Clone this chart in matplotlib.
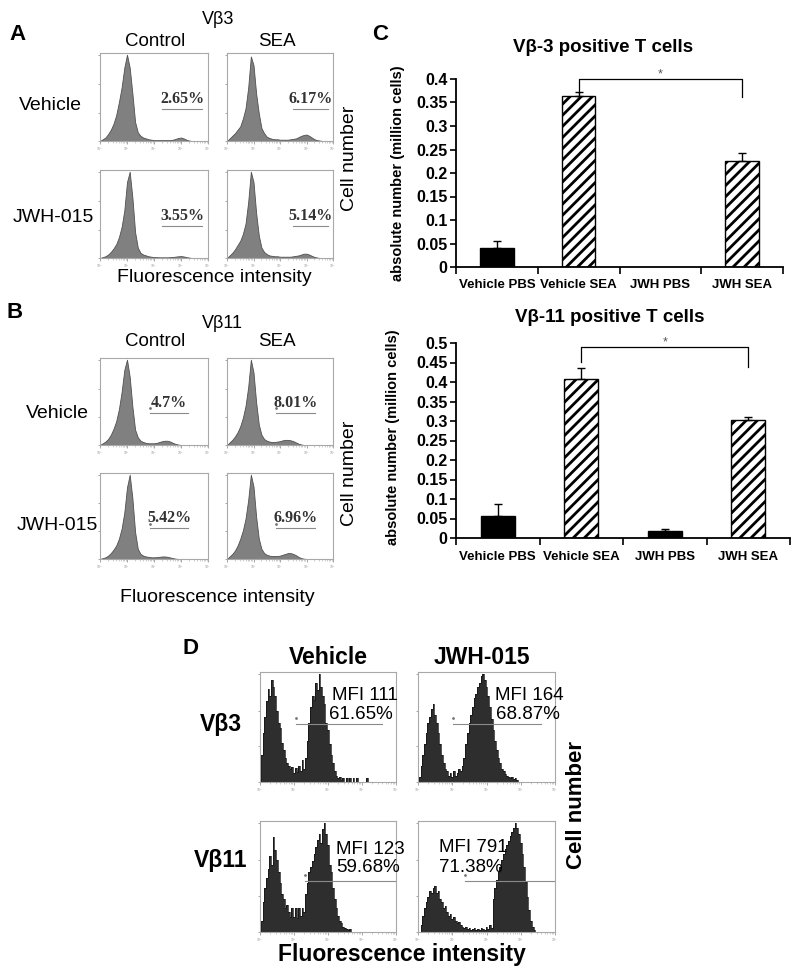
import numpy as np
import matplotlib
matplotlib.use("Agg")
import matplotlib.pyplot as plt

plt.rcParams["font.family"] = ["Liberation Sans", "DejaVu Sans"]
plt.rcParams["hatch.linewidth"] = 2.0

# ---- panels A / B : flow histograms, height every 0.1 decade (10^0 .. 10^4)
a_veh_ctrl = [0, 0.02, 0.04, 0.08, 0.13, 0.20, 0.30, 0.45, 0.62, 0.85,
              1.00, 0.85, 0.55, 0.22, 0.10, 0.06, 0.04, 0.03, 0.02, 0.015,
              0.01, 0.01, 0.01, 0.01, 0.01, 0.01, 0.01, 0.015, 0.025, 0.035,
              0.04, 0.03, 0.015, 0.005, 0, 0, 0, 0, 0, 0, 0]
a_veh_sea = [0, 0.03, 0.06, 0.09, 0.13, 0.17, 0.26, 0.38, 0.62, 0.98,
             0.88, 0.55, 0.32, 0.15, 0.09, 0.05, 0.035, 0.025, 0.02, 0.02,
             0.015, 0.015, 0.015, 0.015, 0.02, 0.025, 0.03, 0.045, 0.06, 0.07,
             0.075, 0.06, 0.04, 0.02, 0.01, 0.005, 0, 0, 0, 0, 0]
a_jwh_ctrl = [0, 0.01, 0.02, 0.04, 0.07, 0.11, 0.16, 0.24, 0.36, 0.55,
              0.88, 1.00, 0.70, 0.30, 0.12, 0.06, 0.04, 0.03, 0.02, 0.015,
              0.01, 0.01, 0.008, 0.008, 0.008, 0.008, 0.01, 0.012, 0.016, 0.02,
              0.022, 0.018, 0.01, 0.005, 0, 0, 0, 0, 0, 0, 0]
a_jwh_sea = [0, 0.03, 0.06, 0.10, 0.15, 0.20, 0.28, 0.40, 0.65, 1.00,
             0.88, 0.52, 0.26, 0.12, 0.07, 0.045, 0.03, 0.025, 0.02, 0.02,
             0.015, 0.015, 0.015, 0.015, 0.015, 0.02, 0.025, 0.03, 0.04, 0.05,
             0.05, 0.04, 0.025, 0.012, 0.005, 0, 0, 0, 0, 0, 0]
b_veh_ctrl = [0, 0.02, 0.04, 0.07, 0.12, 0.19, 0.28, 0.42, 0.62, 0.88,
              1.00, 0.80, 0.45, 0.18, 0.09, 0.05, 0.035, 0.025, 0.02, 0.02,
              0.02, 0.025, 0.035, 0.045, 0.05, 0.05, 0.04, 0.025, 0.012, 0.005,
              0, 0, 0, 0, 0, 0, 0, 0, 0, 0, 0]
b_veh_sea = [0, 0.03, 0.06, 0.10, 0.15, 0.22, 0.32, 0.46, 0.68, 1.00,
             0.85, 0.50, 0.24, 0.12, 0.07, 0.05, 0.04, 0.035, 0.035, 0.04,
             0.045, 0.055, 0.06, 0.06, 0.055, 0.045, 0.03, 0.015, 0.006, 0,
             0, 0, 0, 0, 0, 0, 0, 0, 0, 0, 0]
b_jwh_ctrl = [0, 0.01, 0.02, 0.04, 0.07, 0.11, 0.16, 0.24, 0.36, 0.55,
              0.85, 1.00, 0.72, 0.32, 0.12, 0.06, 0.04, 0.03, 0.025, 0.02,
              0.02, 0.022, 0.026, 0.03, 0.03, 0.026, 0.018, 0.01, 0.004, 0,
              0, 0, 0, 0, 0, 0, 0, 0, 0, 0, 0]
b_jwh_sea = [0, 0.03, 0.06, 0.10, 0.16, 0.24, 0.34, 0.48, 0.70, 1.00,
             0.86, 0.50, 0.24, 0.12, 0.07, 0.05, 0.04, 0.035, 0.035, 0.035,
             0.04, 0.05, 0.06, 0.07, 0.07, 0.06, 0.045, 0.025, 0.01, 0.004,
             0, 0, 0, 0, 0, 0, 0, 0, 0, 0, 0]
a_pct = ["2.65%", "6.17%", "3.55%", "5.14%"]
b_pct = ["4.7%", "8.01%", "5.42%", "6.96%"]
# gate (start decade, end decade, height)
a_gates = [(2.3, 3.78, 0.375), (2.49, 3.81, 0.375), (2.3, 3.78, 0.375), (2.49, 3.81, 0.375)]
b_gates = [(1.85, 3.26, 0.38), (1.85, 3.32, 0.38), (1.85, 3.26, 0.37), (1.85, 3.32, 0.37)]

# ---- panel C : absolute numbers
cats = ["Vehicle PBS", "Vehicle SEA", "JWH PBS", "JWH SEA"]
vb3_cells = [0.040, 0.364, 0.0, 0.226]
vb3_err = [0.015, 0.008, 0.0, 0.016]
vb11_cells = [0.057, 0.408, 0.017, 0.303]
vb11_err = [0.030, 0.027, 0.005, 0.008]
vb3_bracket = [0.371, 0.400, 0.362]    # left foot, top, right foot
vb11_bracket = [0.451, 0.490, 0.438]

# ---- panel D : flow histograms, height every 0.05 decade
d_veh_vb3 = [0, 0.25, 0.45, 0.60, 0.75, 0.86, 0.80, 0.95, 0.88, 0.80,
             0.66, 0.55, 0.50, 0.36, 0.30, 0.22, 0.18, 0.15, 0.12, 0.14,
             0.08, 0.13, 0.09, 0.15, 0.10, 0.20, 0.12, 0.22, 0.38, 0.55,
             0.70, 0.80, 0.76, 0.92, 0.85, 1.00, 0.88, 0.80, 0.72, 0.55,
             0.48, 0.35, 0.25, 0.18, 0.10, 0.06, 0.04, 0.05, 0.02, 0.04,
             0, 0.04, 0, 0.04, 0, 0.04, 0, 0.04, 0, 0,
             0, 0, 0, 0.04, 0, 0, 0, 0, 0, 0,
             0, 0, 0, 0, 0, 0, 0, 0, 0, 0, 0]
d_jwh_vb3 = [0, 0.05, 0.15, 0.25, 0.35, 0.45, 0.55, 0.60, 0.68, 0.72,
             0.62, 0.55, 0.45, 0.35, 0.25, 0.18, 0.12, 0.10, 0.06, 0.08,
             0.05, 0.10, 0.06, 0.08, 0.12, 0.10, 0.15, 0.22, 0.35, 0.45,
             0.55, 0.62, 0.70, 0.78, 0.82, 0.88, 0.92, 0.98, 1.00, 0.95,
             0.88, 0.80, 0.70, 0.58, 0.48, 0.38, 0.30, 0.22, 0.18, 0.12,
             0.10, 0.07, 0.06, 0.05, 0.04, 0.05, 0.03, 0.04, 0.02, 0,
             0, 0, 0, 0, 0, 0, 0, 0, 0, 0,
             0, 0, 0, 0, 0, 0, 0, 0, 0, 0, 0]
d_veh_vb11 = [0, 0.10, 0.28, 0.40, 0.50, 0.58, 0.70, 0.62, 0.87, 0.75,
              0.66, 0.55, 0.45, 0.35, 0.30, 0.22, 0.25, 0.18, 0.14, 0.22,
              0.14, 0.22, 0.13, 0.22, 0.15, 0.22, 0.18, 0.35, 0.45, 0.55,
              0.60, 0.65, 0.72, 0.78, 0.85, 0.90, 0.82, 0.95, 1.00, 0.90,
              0.80, 0.62, 0.55, 0.40, 0.30, 0.22, 0.15, 0.10, 0.08, 0.05,
              0.04, 0.03, 0.02, 0.03, 0, 0, 0, 0, 0, 0,
              0, 0, 0, 0, 0, 0, 0, 0, 0, 0,
              0, 0, 0, 0, 0, 0, 0, 0, 0, 0, 0]
d_jwh_vb11 = [0, 0, 0.06, 0.15, 0.22, 0.28, 0.32, 0.38, 0.36, 0.40,
              0.42, 0.36, 0.38, 0.30, 0.28, 0.22, 0.24, 0.18, 0.15, 0.17,
              0.12, 0.14, 0.10, 0.08, 0.09, 0.06, 0.05, 0.04, 0.05, 0.03,
              0.04, 0.02, 0.03, 0.04, 0.02, 0.03, 0.02, 0.04, 0.03, 0.02,
              0.05, 0.03, 0.06, 0.04, 0.30, 0.40, 0.48, 0.55, 0.60, 0.66,
              0.72, 0.76, 0.80, 0.84, 0.88, 0.92, 0.96, 1.00, 0.96, 0.90,
              0.82, 0.72, 0.60, 0.46, 0.32, 0.20, 0.10, 0.05, 0.02, 0,
              0, 0, 0, 0, 0, 0, 0, 0, 0, 0, 0]
d_mfi = ["MFI 111", "MFI 164", "MFI 123", "MFI 791"]
d_pct = ["61.65%", "68.87%", "59.68%", "71.38%"]
d_gates = [(1.05, 3.6, 0.54), (1.03, 3.59, 0.54), (1.33, 4.0, 0.47), (1.37, 4.0, 0.47)]

W, H = 800, 975
fig = plt.figure(figsize=(W / 100, H / 100), dpi=100)


def ftext(x, y, s, **kw):
    kw.setdefault("ha", "center")
    kw.setdefault("va", "center")
    fig.text(x / W, 1 - y / H, s, **kw)


def hist_box(l, t, r, b, h, face, edge, step=False):
    ax = fig.add_axes([l / W, 1 - b / H, (r - l) / W, (b - t) / H])
    dec = np.linspace(0, 4, len(h))
    x = 10 ** dec
    if step:
        ax.fill_between(x, h, step="mid", color=face, lw=0)
        ax.step(x, h, where="mid", color=edge, lw=0.5)
    else:
        ax.fill_between(x, h, facecolor=face, edgecolor=edge, lw=0.6)
    ax.set_xscale("log")
    ax.set_xlim(1, 1e4)
    ax.set_ylim(0, 1.02)
    for s in ax.spines.values():
        s.set_color("#a8a8a8")
        s.set_linewidth(0.8)
    ax.set_xticks([1, 10, 100, 1e3, 1e4])
    ax.tick_params(axis="x", which="major", length=2.5, width=0.6, colors="#999999",
                   labelsize=2.5, pad=1)
    ax.tick_params(axis="x", which="minor", length=1.2, width=0.4, color="#aaaaaa")
    ax.set_yticks([0, 0.33, 0.66, 1.0])
    ax.set_yticklabels([])
    ax.tick_params(axis="y", length=1.5, width=0.6, color="#999999")
    return ax


def gate(ax, g, mark=False):
    g0, g1, gy = g
    ax.plot([10 ** g0, 10 ** g1], [gy, gy], color="#8a8a8a", lw=0.8, clip_on=False)
    if mark:
        ax.plot(10 ** g0, gy + 0.05, marker=".", ms=2, color="#777777")


# ---------------- A and B
ab_cols = [(100, 208), (227, 333)]
for rows, hists, pcts, gates, dots in [
        ([(53, 141), (170, 258)], [a_veh_ctrl, a_veh_sea, a_jwh_ctrl, a_jwh_sea], a_pct, a_gates, False),
        ([(358, 445), (473, 559)], [b_veh_ctrl, b_veh_sea, b_jwh_ctrl, b_jwh_sea], b_pct, b_gates, True)]:
    k = 0
    for (t, b) in rows:
        for (l, r) in ab_cols:
            ax = hist_box(l, t, r, b, hists[k], "#808080", "#505050")
            g = gates[k]
            gate(ax, g, mark=dots)
            ax.text(10 ** ((g[0] + g[1]) / 2), g[2] + 0.02, pcts[k], ha="center", va="bottom",
                    family="Liberation Serif", weight="bold", size=11.5, color="#333333")
            k += 1

ftext(17, 34, "A", size=16, weight="bold")
ftext(218, 19, "Vβ3", size=13)
ftext(155, 42, "Control", size=13.5)
ftext(277, 42, "SEA", size=13.5)
ftext(50, 105, "Vehicle", size=14)
ftext(53, 218, "JWH-015", size=14)
ftext(214, 278, "Fluorescence intensity", size=14)

ftext(15, 312, "B", size=16, weight="bold")
ftext(222, 323, "Vβ11", size=13)
ftext(155, 342, "Control", size=13.5)
ftext(277, 342, "SEA", size=13.5)
ftext(57, 413, "Vehicle", size=14)
ftext(57, 525, "JWH-015", size=14)
ftext(217, 598, "Fluorescence intensity", size=14)

ftext(350, 158, "Cell number", size=14, rotation=90)
ftext(350, 473, "Cell number", size=14, rotation=90)


# ---------------- C
def bar_panel(l, t, r, b, vals, errs, ymax, bracket):
    ax = fig.add_axes([l / W, 1 - b / H, (r - l) / W, (b - t) / H])
    for i, (v, e) in enumerate(zip(vals, errs)):
        if v <= 0:
            continue
        sea = "SEA" in cats[i]
        ax.bar(i, v, width=0.41, color="white" if sea else "black", edgecolor="black",
               hatch="///" if sea else None, lw=1.0)
        ax.errorbar(i, v, yerr=[[0], [e]], color="black", capsize=3, elinewidth=1.0,
                    capthick=1.0)
    i0, i1 = 1, 3
    ax.plot([i0, i0, i1, i1], [bracket[0], bracket[1], bracket[1], bracket[2]],
            color="black", lw=0.9, clip_on=False)
    ax.text((i0 + i1) / 2, bracket[1] + ymax * 0.025, "*", ha="center", va="center",
            size=9, color="#555555")
    ax.set_xlim(-0.5, len(cats) - 0.5)
    ax.set_ylim(0, ymax)
    for s in ["top", "right"]:
        ax.spines[s].set_visible(False)
    for s in ["left", "bottom"]:
        ax.spines[s].set_linewidth(1.3)
    yt = np.arange(0, ymax + 1e-9, 0.05)
    ax.set_yticks(yt, [f"{v:g}" for v in np.round(yt, 2)], fontsize=11.5, fontweight="bold")
    ax.set_xticks(range(len(cats)), cats, fontsize=9.5, fontweight="bold")
    ax.set_xticks(np.arange(-0.5, len(cats)), minor=True)
    ax.tick_params(axis="x", which="major", length=0, pad=9)
    ax.tick_params(axis="x", which="minor", length=5, width=1.2)
    ax.tick_params(axis="y", length=4, width=1.2, pad=2)
    return ax


bar_panel(456, 79, 783, 267, vb3_cells, vb3_err, 0.4, vb3_bracket)
bar_panel(456, 343, 790, 538, vb11_cells, vb11_err, 0.5, vb11_bracket)
ftext(380, 35, "C", size=16, weight="bold")
ftext(603, 47, "Vβ-3 positive T cells", size=13.5, weight="bold")
ftext(610, 317, "Vβ-11 positive T cells", size=13.5, weight="bold")
ftext(398, 173, "absolute number (million cells)", size=10.5, weight="bold", rotation=90)
ftext(393, 437, "absolute number (million cells)", size=10.5, weight="bold", rotation=90)

# ---------------- D
d_boxes = [(260, 672, 396, 782), (418, 672, 555, 782), (260, 821, 396, 932), (418, 821, 555, 932)]
d_hists = [d_veh_vb3, d_jwh_vb3, d_veh_vb11, d_jwh_vb11]
d_txt_pos = [(0.53, 0.79, 0.51, 0.61), (0.56, 0.79, 0.57, 0.61),
             (0.56, 0.74, 0.56, 0.58), (0.15, 0.76, 0.15, 0.58)]
for k, (l, t, r, b) in enumerate(d_boxes):
    ax = hist_box(l, t, r, b, d_hists[k], "#2e2e2e", "#111111", step=True)
    gate(ax, d_gates[k], mark=True)
    mx, my, px, py = d_txt_pos[k]
    ax.text(mx, my, d_mfi[k], transform=ax.transAxes, ha="left", va="center", size=13.5)
    ax.text(px, py, d_pct[k], transform=ax.transAxes, ha="left", va="center", size=13.5)

ftext(190, 648, "D", size=16, weight="bold")
ftext(328, 657, "Vehicle", size=16.5, weight="bold")
ftext(482, 657, "JWH-015", size=16.5, weight="bold")
ftext(221, 725, "Vβ3", size=16.5, weight="bold")
ftext(221, 860, "Vβ11", size=16.5, weight="bold")
ftext(402, 955, "Fluorescence intensity", size=16.5, weight="bold")
ftext(577, 805, "Cell number", size=16, weight="bold", rotation=90)

fig.savefig("out.png", dpi=100)
